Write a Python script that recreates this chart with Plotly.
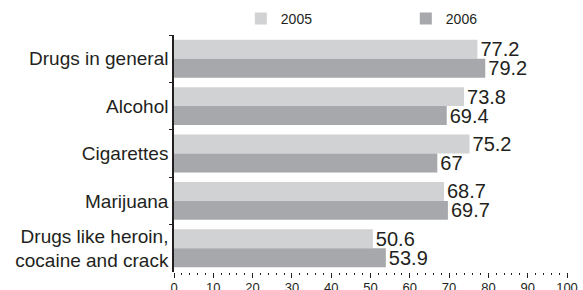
import plotly.graph_objects as go

categories = ["Drugs in general", "Alcohol", "Cigarettes", "Marijuana",
              "Drugs like heroin,<br>cocaine and crack"]
values_2005 = [77.2, 73.8, 75.2, 68.7, 50.6]
values_2006 = [79.2, 69.4, 67, 69.7, 53.9]
series_names = ["2005", "2006"]
x_ticks = [0, 10, 20, 30, 40, 50, 60, 70, 80, 90, 100]

FONT = "Liberation Sans, Arial, sans-serif"
TXT = "#231f20"
C05 = "#d1d2d4"
C06 = "#a7a8ab"

fig = go.Figure()
for name, vals, col in [(series_names[0], values_2005, C05), (series_names[1], values_2006, C06)]:
    fig.add_trace(go.Bar(
        y=categories, x=vals, name=name, orientation="h",
        marker=dict(color=col, line=dict(width=0)),
        text=[f"{v:g}" for v in vals], textposition="outside",
        textfont=dict(family=FONT, size=20, color=TXT),
        constraintext="none", cliponaxis=False,
    ))

fig.update_layout(
    width=583, height=290,
    margin=dict(l=174, r=16, t=35, b=18, autoexpand=False),
    paper_bgcolor="white", plot_bgcolor="white",
    barmode="group", bargap=0.2, bargroupgap=0,
    showlegend=True,
    legend=dict(orientation="h", x=0.17, xanchor="left", y=1.0675, yanchor="middle",
                font=dict(family=FONT, size=14, color=TXT),
                entrywidth=120, entrywidthmode="pixels", traceorder="normal",
                bgcolor="rgba(0,0,0,0)"),
    font=dict(family=FONT, color=TXT),
)
fig.update_yaxes(
    categoryorder="array", categoryarray=categories, autorange="reversed",
    showline=True, linecolor=TXT, linewidth=1.5,
    ticks="outside", tickson="boundaries", ticklen=3, tickcolor=TXT,
    tickfont=dict(family=FONT, size=19, color=TXT),
    showgrid=False, zeroline=False, automargin=False,
)
fig.update_xaxes(
    range=[0, 100], tickvals=x_ticks, ticktext=[str(t) for t in x_ticks],
    showline=False, showgrid=False, zeroline=False, automargin=False,
    ticks="outside", ticklen=5, tickwidth=1, tickcolor=TXT,
    minor=dict(ticks="outside", ticklen=2, dtick=2, tickcolor=TXT, showgrid=False),
    tickfont=dict(family=FONT, size=13, color=TXT),
    ticklabelstandoff=-2,
)

fig.write_html("out.html", config={"displayModeBar": False},
               post_script="document.body.style.margin='0';document.body.style.overflow='hidden';")
